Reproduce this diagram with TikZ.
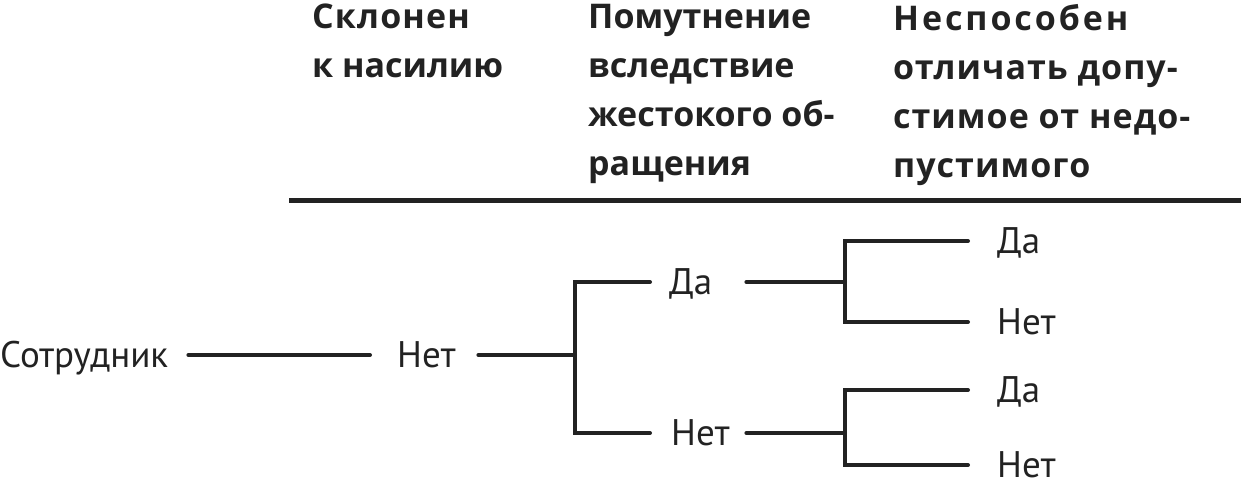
\documentclass[tikz,border=0pt]{standalone}
\usepackage{fontspec}
\setmainfont{PT Sans}
\newfontfamily\hdrfont{Open Sans}
\definecolor{ink}{HTML}{222222}
\newcommand{\lsp}[2]{{\addfontfeature{LetterSpace=#1}#2}}
\begin{document}
\begin{tikzpicture}[x=1pt,y=-1pt,
  lbl/.style={font=\fontsize{37}{44}\selectfont, text=ink, inner ysep=0pt, text height=25pt, text depth=0pt, anchor=west, align=left},
  hdr/.style={font=\hdrfont\bfseries\fontsize{34}{49}\selectfont, text=ink, inner sep=0pt, anchor=north west, align=left},
  tree/.style={line width=4pt, line cap=round, line join=miter, draw=ink},
  rule/.style={line width=5pt, line cap=butt, draw=ink}]
\useasboundingbox (0,0) rectangle (1241,482);
% headers
\node[hdr] (h1) at (312,4) {\lsp{3.4}{Склонен}\\к насилию};
\node[hdr] (h2) at (588,4) {Помутнение\\вследствие\\жестокого об-\\ращения};
\node[hdr] (h3) at (893,4) {\lsp{8.5}{Неспособен}\\\lsp{3}{отличать допу-}\\\lsp{3}{стимое от недо-}\\\lsp{3}{пустимого}};
\coordinate (rl) at (289,200);
\coordinate (rr) at (1241,200);
\draw[rule] (rl) -- (rr);
% tree nodes
\node[lbl, inner xsep=20pt, text width=168pt] (emp) at (-20,355) {Сотрудник};
\node[lbl, inner xsep=27pt, text width=54pt] (n1) at (370,355) {Нет};
\node[lbl, inner xsep=19pt, text width=58pt] (d2) at (650,282) {Да};
\node[lbl, inner xsep=21pt, text width=54pt] (n2) at (650,433) {Нет};
\node[lbl, inner xsep=29pt] (d3) at (968,241) {Да};
\node[lbl, inner xsep=29pt] (n3) at (968,322) {Нет};
\node[lbl, inner xsep=29pt] (d4) at (968,390) {Да};
\node[lbl, inner xsep=29pt] (n4) at (968,465) {Нет};
\coordinate (j1) at (575,355);
\coordinate (j2) at (845,282);
\coordinate (j3) at (845,433);
% connectors
\draw[tree] (emp.east) -- (n1.west);
\draw[tree] (n1.east) -- (j1);
\draw[tree] (d2.west) -| (j1) |- (n2.west);
\draw[tree] (d2.east) -- (j2);
\draw[tree] (d3.west) -| (j2) |- (n3.west);
\draw[tree] (n2.east) -- (j3);
\draw[tree] (d4.west) -| (j3) |- (n4.west);
\end{tikzpicture}
\end{document}
